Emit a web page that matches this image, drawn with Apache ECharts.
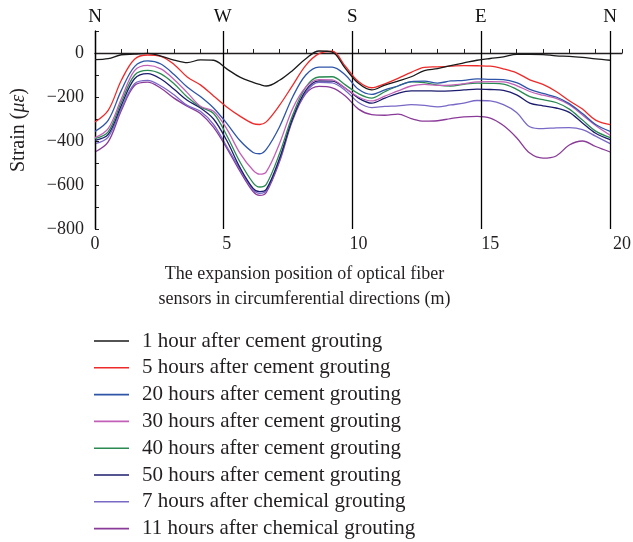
<!DOCTYPE html>
<html>
<head>
<meta charset="utf-8">
<script src="https://cdn.jsdelivr.net/npm/echarts@6/dist/echarts.min.js"></script>
<style>
  html, body { margin: 0; padding: 0; background: #fff; }
  #chart { width: 633px; height: 542px; }
</style>
</head>
<body>
<div id="chart"></div>
<script>
// position along the fibre (m)
const xs = [0, 0.5, 1, 1.5, 2, 2.5, 3, 3.5, 4, 4.5, 5, 5.5, 6, 6.25, 6.5, 7, 7.5, 8, 8.5, 9, 9.5,
    10, 10.5, 11, 11.5, 12, 12.5, 13, 13.5, 14, 14.5, 15, 15.5, 16, 16.5, 17, 17.5, 18, 18.5, 19, 19.55];

const c1h = [-30, -26, -8, -5, -2, -14, -32, -44, -31, -33, -72, -110, -134, -143, -150, -124, -79, -26, 9, 4, -70,
    -138, -168, -146, -128, -108, -80, -71, -57, -45, -33, -25, -18, -6, -6, -7, -13, -15, -20, -27, -33];
const c5h = [-314, -261, -124, -28, -9, -15, -52, -109, -145, -195, -245, -287, -321, -325, -313, -238, -147, -56, -3, 8, -60,
    -130, -158, -140, -115, -88, -65, -63, -60, -57, -58, -60, -72, -90, -122, -143, -175, -217, -255, -305, -326];
const c20h = [-356, -306, -170, -62, -36, -50, -98, -155, -198, -250, -320, -398, -452, -458, -438, -336, -200, -100, -64, -64, -100,
    -165, -188, -168, -150, -130, -128, -137, -127, -124, -118, -120, -121, -135, -165, -184, -200, -230, -275, -325, -356];
const c30h = [-385, -344, -208, -80, -56, -72, -120, -180, -242, -265, -345, -455, -533, -551, -540, -412, -253, -155, -121, -122, -160,
    -200, -218, -196, -172, -150, -143, -147, -146, -140, -131, -130, -131, -148, -175, -192, -206, -235, -282, -330, -374];
const c40h = [-389, -359, -223, -101, -79, -95, -140, -200, -245, -275, -375, -495, -590, -609, -597, -458, -283, -155, -109, -108, -145,
    -185, -205, -176, -150, -131, -135, -146, -150, -142, -137, -138, -141, -165, -198, -212, -225, -255, -305, -355, -385];
const c50h = [-397, -370, -238, -117, -94, -118, -165, -215, -250, -300, -398, -520, -615, -630, -620, -480, -298, -170, -127, -128, -160,
    -205, -228, -205, -183, -172, -172, -173, -172, -168, -164, -166, -170, -190, -228, -240, -250, -270, -318, -365, -394];
const ch7h = [-412, -382, -253, -140, -124, -150, -190, -238, -265, -325, -425, -528, -622, -638, -627, -488, -298, -179, -133, -136, -170,
    -225, -248, -243, -240, -235, -238, -245, -236, -228, -216, -218, -235, -270, -335, -344, -340, -339, -348, -378, -412];
const ch11h = [-450, -404, -261, -148, -132, -160, -205, -242, -275, -338, -432, -537, -630, -647, -634, -495, -306, -185, -152, -158, -195,
    -255, -280, -283, -278, -298, -310, -308, -298, -290, -288, -296, -330, -385, -455, -478, -468, -418, -400, -425, -450];

const seriesNames = [
    '1 hour after cement grouting',
    '5 hours after cement grouting',
    '20 hours after cement grouting',
    '30 hours after cement grouting',
    '40 hours after cement grouting',
    '50 hours after cement grouting',
    '7 hours after chemical grouting',
    '11 hours after chemical grouting'
];
const seriesData = [c1h, c5h, c20h, c30h, c40h, c50h, ch7h, ch11h];
const colors = ['#1a1a1a', '#ee2a2a', '#2e55a8', '#c260b8', '#2a8a52', '#1c1c6e', '#7a68c6', '#8a3a98'];

// compass marks along the circumference
const dirNames = ['N', 'W', 'S', 'E', 'N'];
const dirPos = [0, 4.85, 9.76, 14.64, 19.55];

const serif = 'Liberation Serif';
const ink = '#231f20';
const myChart = echarts.init(document.getElementById('chart'));

const series = seriesNames.map(function (name, i) {
    const s = {
        name: name,
        type: 'line',
        smooth: 0.35,
        symbol: 'none',
        animation: false,
        lineStyle: { width: 1.3, color: colors[i] },
        itemStyle: { color: colors[i] },
        data: xs.map(function (x, j) { return [x, seriesData[i][j]]; }),
        z: 10 - i
    };
    if (i === 0) {
        s.markLine = {
            silent: true,
            symbol: 'none',
            animation: false,
            lineStyle: { color: '#000', width: 1.3, type: 'solid' },
            label: {
                position: 'end',
                formatter: '{b}',
                color: '#111',
                fontFamily: serif,
                fontSize: 19,
                distance: 4
            },
            data: dirPos.map(function (p, k) { return { name: dirNames[k], xAxis: p }; })
        };
    }
    return s;
});

const option = {
    backgroundColor: '#fff',
    animation: false,
    grid: { left: 95, right: 11, top: 31, bottom: 313, outerBoundsMode: 'none' },
    legend: {
        orient: 'vertical',
        left: 94,
        top: 330,
        height: 215,
        padding: 0,
        icon: 'rect',
        itemWidth: 35,
        itemHeight: 1.6,
        itemGap: 4.8,
        data: seriesNames,
        textStyle: {
            fontFamily: serif,
            fontSize: 21,
            color: ink,
            lineHeight: 22,
            padding: [0, 0, 0, 8]
        }
    },
    xAxis: {
        type: 'value',
        min: 0,
        max: 20,
        interval: 1,
        name: 'The expansion position of optical fiber\nsensors in circumferential directions (m)',
        nameLocation: 'middle',
        nameGap: 33,
        nameTextStyle: {
            fontFamily: serif, fontSize: 18, color: ink, lineHeight: 25,
            padding: [0, 108, 0, 0], verticalAlign: 'top'
        },
        axisLine: { lineStyle: { color: ink, width: 1.3 } },
        axisTick: { inside: true, length: 4, lineStyle: { color: ink } },
        axisLabel: {
            fontFamily: serif, fontSize: 18, color: ink, margin: 6,
            formatter: function (v) { return v % 5 === 0 ? String(v) : ''; }
        },
        splitLine: { show: false }
    },
    yAxis: {
        type: 'value',
        min: -800,
        max: 100,
        interval: 100,
        name: 'Strain ({i|με})',
        nameLocation: 'middle',
        nameGap: 66,
        nameTextStyle: {
            fontFamily: serif, fontSize: 20, color: ink,
            rich: { i: { fontFamily: serif, fontSize: 20, fontStyle: 'italic', color: ink } }
        },
        axisLine: { show: true, lineStyle: { color: ink, width: 1.3 } },
        axisTick: { inside: true, length: 4, lineStyle: { color: ink } },
        axisLabel: {
            fontFamily: serif, fontSize: 18, color: ink, margin: 11,
            formatter: function (v) {
                if (v > 0 || v % 200 !== 0) return '';
                return v < 0 ? '\u2212' + Math.abs(v) : '0';
            }
        },
        splitLine: { show: false }
    },
    series: series
};

myChart.setOption(option);
</script>
</body>
</html>
